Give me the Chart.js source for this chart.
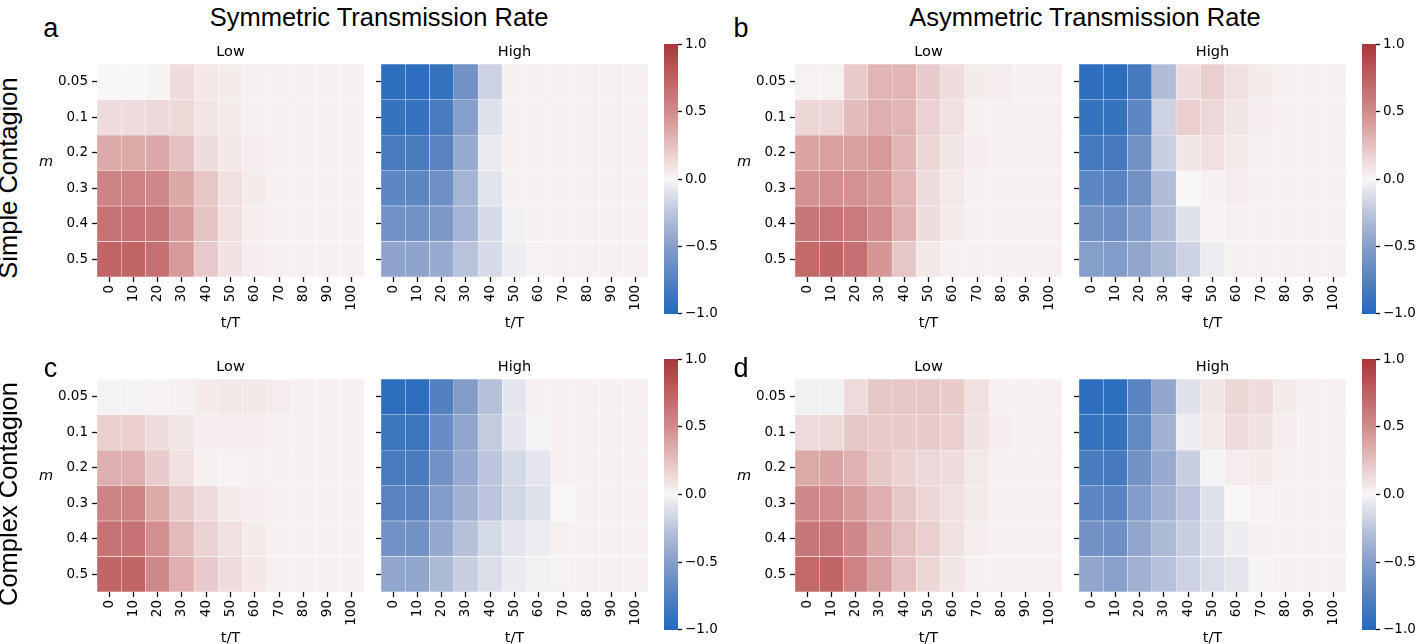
<!DOCTYPE html>
<html><head><meta charset="utf-8">
<script src="https://cdn.jsdelivr.net/npm/chart.js@4"></script>
<style>
html,body{margin:0;padding:0;background:#fff;}
body{width:1424px;height:644px;position:relative;overflow:hidden;}
canvas{position:absolute;}
.t{position:absolute;line-height:1;white-space:nowrap;color:#000;z-index:5;}
.lib{font-family:"Liberation Sans",Arial,sans-serif;}
.dv{font-family:"DejaVu Sans",sans-serif;}
.c{transform:translateX(-50%);}
.rot{transform:translate(-50%,-50%) rotate(-90deg);}
</style></head><body>
<div class="t lib c" style="left:379px;top:4.9px;font-size:25.5px;">Symmetric Transmission Rate</div>
<div class="t lib c" style="left:1085px;top:4.9px;font-size:25.5px;">Asymmetric Transmission Rate</div>
<div class="t lib c" style="left:50.7px;top:14.6px;font-size:27px;">a</div>
<div class="t lib c" style="left:741px;top:14.6px;font-size:27px;">b</div>
<div class="t lib c" style="left:50.5px;top:354.5px;font-size:27px;">c</div>
<div class="t lib c" style="left:741px;top:354.5px;font-size:27px;">d</div>
<div class="t lib rot" style="left:9px;top:178px;font-size:25.5px;">Simple Contagion</div>
<div class="t lib rot" style="left:9px;top:493.5px;font-size:25.5px;">Complex Contagion</div>
<script>
// ---------------- data ----------------
const tLabels = ['0','10','20','30','40','50','60','70','80','90','100'];
const mLabels = ['0.05','0.1','0.2','0.3','0.4','0.5'];
const cbTicks = [-1, -0.5, 0, 0.5, 1];
const panelTitles = ['Low', 'High'];
const xTitle = 't/T';
const yTitle = 'm';

// a: simple contagion, symmetric
const simpleSymLow = [
  [0.00,0.00,0.01,0.12,0.07,0.05,0.03,0.03,0.03,0.03,0.03],
  [0.12,0.12,0.14,0.14,0.08,0.05,0.03,0.03,0.03,0.03,0.03],
  [0.36,0.36,0.37,0.25,0.12,0.07,0.04,0.03,0.03,0.03,0.03],
  [0.55,0.55,0.52,0.37,0.22,0.10,0.05,0.03,0.03,0.03,0.03],
  [0.65,0.65,0.63,0.42,0.23,0.10,0.04,0.03,0.03,0.03,0.03],
  [0.73,0.73,0.66,0.43,0.21,0.09,0.04,0.03,0.03,0.03,0.03]
];
const simpleSymHigh = [
  [-0.95,-0.95,-0.90,-0.60,-0.18,0.03,0.03,0.03,0.03,0.03,0.03],
  [-0.90,-0.90,-0.80,-0.50,-0.10,0.03,0.03,0.03,0.03,0.03,0.03],
  [-0.80,-0.80,-0.72,-0.42,-0.06,0.03,0.03,0.03,0.03,0.03,0.03],
  [-0.70,-0.70,-0.62,-0.36,-0.09,0.03,0.03,0.03,0.03,0.03,0.03],
  [-0.60,-0.60,-0.54,-0.36,-0.14,-0.03,0.03,0.03,0.03,0.03,0.03],
  [-0.46,-0.46,-0.42,-0.27,-0.14,-0.04,0.02,0.03,0.03,0.03,0.03]
];
// b: simple contagion, asymmetric
const simpleAsymLow = [
  [0.02,0.02,0.20,0.30,0.30,0.20,0.12,0.05,0.04,0.03,0.03],
  [0.15,0.15,0.27,0.33,0.30,0.17,0.10,0.03,0.03,0.03,0.03],
  [0.38,0.40,0.40,0.43,0.30,0.15,0.08,0.04,0.03,0.03,0.03],
  [0.47,0.48,0.47,0.44,0.30,0.12,0.06,0.03,0.03,0.03,0.03],
  [0.62,0.63,0.60,0.50,0.32,0.12,0.05,0.03,0.03,0.03,0.03],
  [0.70,0.72,0.66,0.45,0.22,0.07,0.03,0.03,0.03,0.03,0.03]
];
const simpleAsymHigh = [
  [-0.95,-0.95,-0.82,-0.30,0.12,0.18,0.10,0.05,0.03,0.03,0.03],
  [-0.90,-0.90,-0.70,-0.18,0.18,0.14,0.08,0.04,0.03,0.03,0.03],
  [-0.82,-0.82,-0.60,-0.20,0.08,0.10,0.06,0.03,0.03,0.03,0.03],
  [-0.70,-0.72,-0.60,-0.30,0.00,0.03,0.04,0.03,0.03,0.03,0.03],
  [-0.60,-0.62,-0.52,-0.30,-0.10,0.02,0.03,0.03,0.03,0.03,0.03],
  [-0.50,-0.52,-0.45,-0.32,-0.18,-0.05,0.03,0.03,0.03,0.03,0.03]
];
// c: complex contagion, symmetric
const complexSymLow = [
  [-0.02,-0.02,0.02,0.03,0.05,0.07,0.07,0.04,0.03,0.03,0.03],
  [0.18,0.18,0.12,0.08,0.04,0.04,0.04,0.03,0.03,0.03,0.03],
  [0.33,0.33,0.20,0.10,0.03,0.02,0.03,0.03,0.03,0.03,0.03],
  [0.55,0.55,0.36,0.20,0.12,0.05,0.04,0.03,0.03,0.03,0.03],
  [0.65,0.65,0.48,0.28,0.16,0.10,0.05,0.03,0.03,0.03,0.03],
  [0.72,0.72,0.52,0.33,0.20,0.12,0.07,0.03,0.03,0.03,0.03]
];
const complexSymHigh = [
  [-0.95,-0.95,-0.75,-0.52,-0.28,-0.08,0.03,0.03,0.03,0.03,0.03],
  [-0.88,-0.88,-0.65,-0.45,-0.22,-0.08,-0.02,0.03,0.03,0.03,0.03],
  [-0.80,-0.80,-0.60,-0.42,-0.25,-0.15,-0.08,0.03,0.03,0.03,0.03],
  [-0.72,-0.72,-0.52,-0.38,-0.25,-0.16,-0.10,0.00,0.03,0.03,0.03],
  [-0.60,-0.60,-0.43,-0.28,-0.15,-0.08,-0.05,0.03,0.03,0.03,0.03],
  [-0.45,-0.45,-0.32,-0.20,-0.12,-0.06,-0.03,0.02,0.03,0.03,0.03]
];
// d: complex contagion, asymmetric
const complexAsymLow = [
  [-0.03,-0.03,0.13,0.22,0.22,0.22,0.20,0.10,0.03,0.03,0.03],
  [0.13,0.14,0.22,0.20,0.20,0.20,0.18,0.09,0.04,0.03,0.03],
  [0.36,0.38,0.32,0.22,0.16,0.14,0.12,0.06,0.03,0.03,0.03],
  [0.52,0.50,0.42,0.33,0.22,0.15,0.10,0.05,0.03,0.03,0.03],
  [0.62,0.63,0.52,0.37,0.25,0.18,0.10,0.04,0.03,0.03,0.03],
  [0.70,0.72,0.55,0.40,0.25,0.15,0.08,0.03,0.03,0.03,0.03]
];
const complexAsymHigh = [
  [-0.95,-0.95,-0.72,-0.45,-0.10,0.08,0.15,0.12,0.05,0.03,0.03],
  [-0.90,-0.90,-0.68,-0.38,-0.05,0.06,0.12,0.09,0.04,0.03,0.03],
  [-0.80,-0.82,-0.60,-0.42,-0.20,-0.02,0.04,0.05,0.03,0.03,0.03],
  [-0.70,-0.72,-0.52,-0.38,-0.25,-0.10,0.00,0.02,0.03,0.03,0.03],
  [-0.60,-0.62,-0.45,-0.32,-0.20,-0.10,-0.04,0.03,0.03,0.03,0.03],
  [-0.45,-0.48,-0.38,-0.28,-0.18,-0.12,-0.08,0.01,0.03,0.03,0.03]
];

// ---------------- colormap (vlag-like) ----------------
const cmapPos = [-1,-0.75,-0.5,-0.25,0,0.25,0.5,0.75,1];
const cmapRGB = [[35,105,189],[83,129,192],[134,158,202],[188,197,219],[248,246,246],[229,192,192],[209,139,140],[190,97,98],[169,55,59]];
function cmap(v){
  v = Math.max(-1, Math.min(1, v));
  let i = 0;
  while (i < cmapPos.length - 2 && v > cmapPos[i+1]) i++;
  const t = (v - cmapPos[i]) / (cmapPos[i+1] - cmapPos[i]);
  const a = cmapRGB[i], b = cmapRGB[i+1];
  const c = a.map((x, k) => Math.round(x + (b[k] - x) * t));
  return `rgb(${c[0]},${c[1]},${c[2]})`;
}

// ---------------- layout ----------------
const tickFont = { family: 'DejaVu Sans', size: 13.5 };
const rowTops = [62, 377];
const plotW = 267, plotH = 215;
const panels = [
  { vals: simpleSymLow,   left: 97,   row: 0, showY: true,  title: 0 },
  { vals: simpleSymHigh,  left: 381,  row: 0, showY: false, title: 1 },
  { vals: simpleAsymLow,  left: 795,  row: 0, showY: true,  title: 0 },
  { vals: simpleAsymHigh, left: 1079, row: 0, showY: false, title: 1 },
  { vals: complexSymLow,  left: 97,   row: 1, showY: true,  title: 0 },
  { vals: complexSymHigh, left: 381,  row: 1, showY: false, title: 1 },
  { vals: complexAsymLow, left: 795,  row: 1, showY: true,  title: 0 },
  { vals: complexAsymHigh,left: 1079, row: 1, showY: false, title: 1 }
];
const colorbars = [
  { left: 664, top: 43, h: 272 },
  { left: 1362, top: 43, h: 272 },
  { left: 664, top: 358, h: 273 },
  { left: 1362, top: 358, h: 273 }
];
const titleBase = [56.7, 371];
const xTitleBase = [327.5, 642];
const yTitleBase = [166, 480];

function addText(txt, cls, left, top, size, extra) {
  const d = document.createElement('div');
  d.className = 't ' + cls;
  d.style.left = left + 'px';
  d.style.top = top + 'px';
  d.style.fontSize = size + 'px';
  if (extra) Object.assign(d.style, extra);
  d.textContent = txt;
  document.body.appendChild(d);
}

function tickGrid() {
  return { display: true, drawOnChartArea: false, drawTicks: true, tickLength: 5,
           tickWidth: 1.3, tickColor: '#111', color: '#111', offset: false };
}

function makeHeatmap(p) {
  const padL = 60, padT = 10, padR = 12, axH = 45;
  const top = rowTops[p.row];
  const cv = document.createElement('canvas');
  cv.width = padL + plotW + padR;
  cv.height = padT + plotH + axH;
  cv.style.left = (p.left - padL) + 'px';
  cv.style.top = (top - padT) + 'px';
  document.body.appendChild(cv);
  new Chart(cv, {
    type: 'bar',
    data: {
      labels: tLabels,
      datasets: mLabels.map((m, r) => ({
        label: m,
        data: tLabels.map(() => 1),
        backgroundColor: p.vals[r].map(cmap),
        borderColor: 'rgba(255,255,255,0.18)',
        borderWidth: 0.5,
        borderSkipped: false,
        barPercentage: 1,
        categoryPercentage: 1
      }))
    },
    options: {
      responsive: false, animation: false, devicePixelRatio: 1,
      layout: { padding: { left: 0, top: padT, right: padR, bottom: 0 } },
      plugins: { legend: { display: false }, tooltip: { enabled: false } },
      scales: {
        x: {
          stacked: true, offset: true,
          grid: tickGrid(),
          border: { display: false },
          ticks: { autoSkip: false, minRotation: 90, maxRotation: 90, padding: 3, color: '#000', font: tickFont },
          afterFit: s => { s.height = axH; }
        },
        y: {
          stacked: true, reverse: true, min: 0, max: mLabels.length,
          grid: tickGrid(),
          border: { display: false },
          afterBuildTicks: s => { s.ticks = mLabels.map((_, i) => ({ value: i + 0.5 })); },
          ticks: { callback: (v, i) => p.showY ? mLabels[i] : '', padding: 4, color: '#000', font: tickFont },
          afterFit: s => { s.width = padL; }
        }
      }
    }
  });
  const cx = p.left + plotW / 2;
  addText(panelTitles[p.title], 'dv c', cx, titleBase[p.row] - 12.27, 14.5);
  addText(xTitle, 'dv c', cx, xTitleBase[p.row] - 12.27, 14.5);
  if (p.showY) {
    addText(yTitle, 'dv c', p.left - 51, yTitleBase[p.row] - 12.27, 14.5, { fontStyle: 'italic' });
  }
}

function fmtCb(v) {
  return (v < 0 ? '\u2212' : '') + Math.abs(v).toFixed(1);
}

function makeColorbar(cb) {
  const W = 14, axW = 50, pad = 10;
  const cv = document.createElement('canvas');
  cv.width = W + axW;
  cv.height = cb.h + 2 * pad;
  cv.style.left = cb.left + 'px';
  cv.style.top = (cb.top - pad) + 'px';
  document.body.appendChild(cv);
  const lo = cbTicks[0], hi = cbTicks[cbTicks.length - 1];
  new Chart(cv, {
    type: 'bar',
    data: {
      labels: [''],
      datasets: [{
        data: [[lo, hi]],
        backgroundColor: (ctx) => {
          const area = ctx.chart.chartArea;
          if (!area) return cmap(0);
          const g = ctx.chart.ctx.createLinearGradient(0, area.bottom, 0, area.top);
          const n = 40;
          for (let i = 0; i <= n; i++) g.addColorStop(i / n, cmap(lo + (hi - lo) * i / n));
          return g;
        },
        borderWidth: 0,
        barPercentage: 1,
        categoryPercentage: 1
      }]
    },
    options: {
      responsive: false, animation: false, devicePixelRatio: 1,
      layout: { padding: { left: 0, top: pad, right: 0, bottom: pad } },
      plugins: { legend: { display: false }, tooltip: { enabled: false } },
      scales: {
        x: { display: false },
        y: {
          position: 'right', min: lo, max: hi,
          grid: { display: true, drawOnChartArea: false, drawTicks: true, tickLength: 4, tickWidth: 1.3, tickColor: '#111' },
          border: { display: false },
          afterBuildTicks: s => { s.ticks = cbTicks.map(v => ({ value: v })); },
          ticks: { callback: v => fmtCb(v), padding: 3, color: '#000', font: tickFont },
          afterFit: s => { s.width = axW; }
        }
      }
    }
  });
}

panels.forEach(makeHeatmap);
colorbars.forEach(makeColorbar);
</script>
</body></html>
